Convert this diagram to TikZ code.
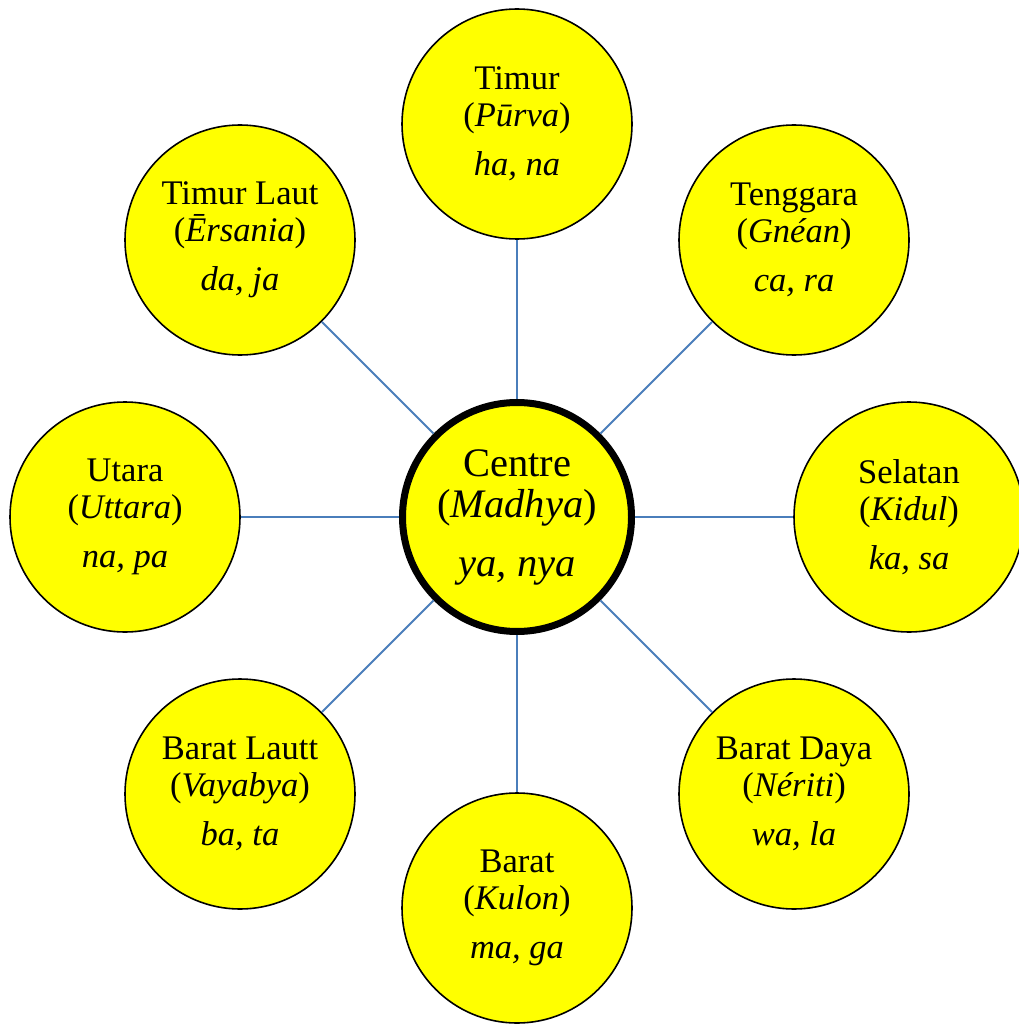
\documentclass[tikz,border=0pt]{standalone}
\usepackage{fontspec}
\setmainfont{Liberation Serif}
\definecolor{cyel}{RGB}{255,255,0}
\definecolor{clink}{RGB}{74,126,187}
\begin{document}
\begin{tikzpicture}[x=1pt,y=-1pt,
  dir/.style={circle,draw=black,line width=1.6pt,fill=cyel,minimum size=230pt,inner sep=0pt,align=center,
    font=\fontsize{34.5}{37}\selectfont},
  mid/.style={circle,draw=black,line width=7pt,fill=cyel,minimum size=229pt,inner sep=0pt,align=center,
    font=\fontsize{40.5}{41}\selectfont},
  link/.style={draw=clink,line width=2pt}]
\useasboundingbox (0,0) rectangle (1018,1024);
\node[mid] (c) at (517,517) {Centre\\(\textit{Madhya})\\[18pt]\textit{ya, nya}};
\node[dir] (e) at (517,124) {Timur\\(\textit{Pūrva})\\[12pt]\textit{ha, na}};
\node[dir] (ne) at (240,240) {Timur Laut\\(\textit{Ērsania})\\[12pt]\textit{da, ja}};
\node[dir] (se) at (794,240) {Tenggara\\(\textit{Gnéan})\\[12pt]\textit{ca, ra}};
\node[dir] (n) at (125,517) {Utara\\(\textit{Uttara})\\[12pt]\textit{na, pa}};
\node[dir] (s) at (909,517) {Selatan\\(\textit{Kidul})\\[12pt]\textit{ka, sa}};
\node[dir] (nw) at (240,794) {Barat Lautt\\(\textit{Vayabya})\\[12pt]\textit{ba, ta}};
\node[dir] (sw) at (794,794) {Barat Daya\\(\textit{Nériti})\\[12pt]\textit{wa, la}};
\node[dir] (w) at (517,908) {Barat\\(\textit{Kulon})\\[12pt]\textit{ma, ga}};
\foreach \t in {e,ne,se,n,s,nw,sw,w} \draw[link] (c) -- (\t);
\end{tikzpicture}
\end{document}
